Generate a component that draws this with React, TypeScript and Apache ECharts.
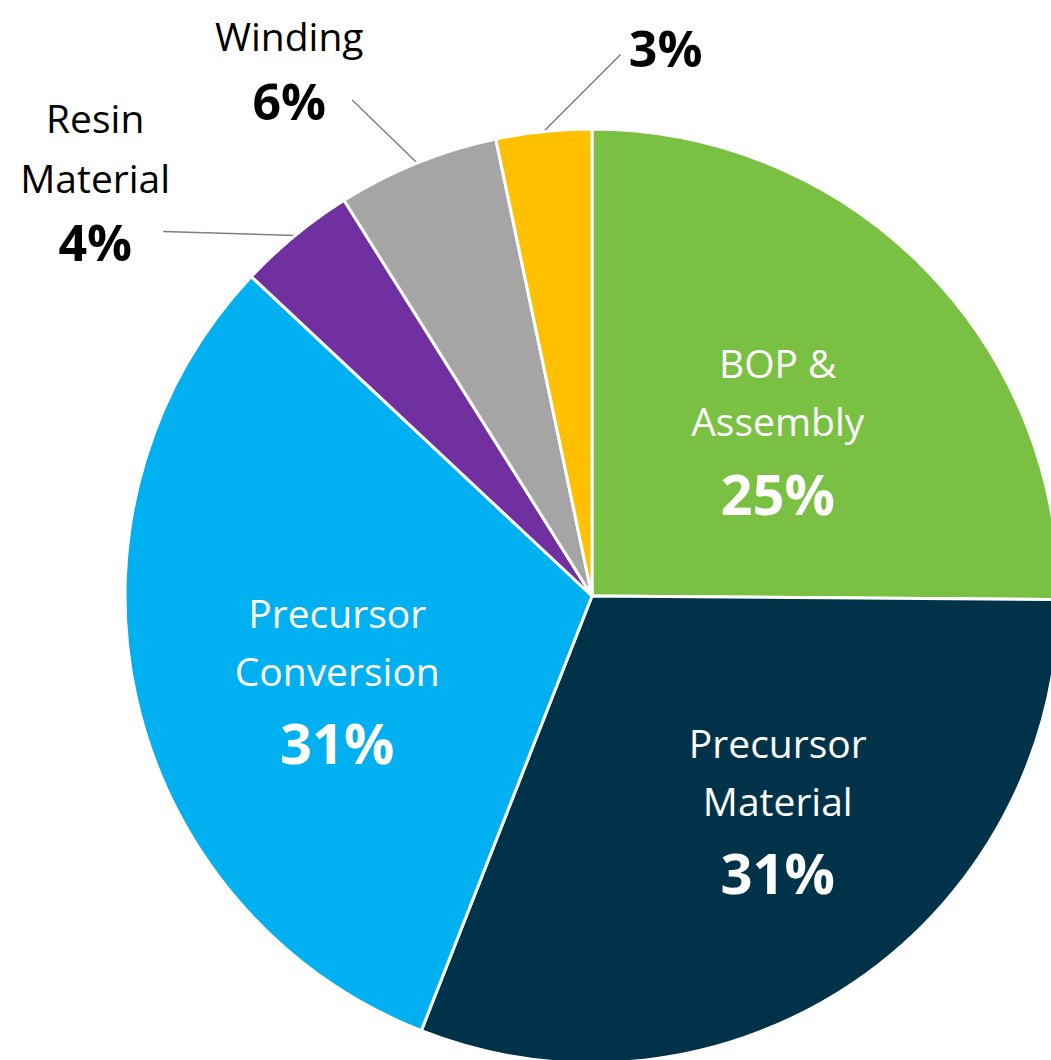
import React, { useEffect, useRef } from "react";
import * as echarts from "echarts";

// ---- data ----
const categories = [
  "BOP &\nAssembly",
  "Precursor\nMaterial",
  "Precursor\nConversion",
  "Resin\nMaterial",
  "Winding",
  "",
];
const values = [25.1, 30.8, 31.0, 4.1, 5.6, 3.3];
const colors = ["#7AC143", "#00334A", "#00B0F0", "#7030A0", "#A5A5A5", "#FFC000"];

// ---- layout ----
const CENTER = [592, 596];
const RADIUS = 467;
const FONT = "Open Sans";
// label placement relative to the slice's mid-angle point (inside: half radius, outside: rim)
const placement = [
  { inside: true, dx: 20, dy: 3, lx: 0, ly: 0 },
  { inside: true, dx: 55, dy: 25, lx: 0, ly: 0 },
  { inside: true, dx: -27, dy: 37, lx: 0, ly: 0 },
  { inside: false, dx: -200, dy: -53, lx: -132, ly: -4 },
  { inside: false, dx: -128, dy: -92, lx: -65, ly: -63 },
  { inside: false, dx: 122, dy: -84, lx: 77, ly: -77 },
];

export default function App() {
  const ref = useRef<HTMLDivElement>(null);
  useEffect(() => {
    if (!ref.current) return;
    const chart = echarts.init(ref.current, undefined, { renderer: "svg" });
    const total = values.reduce((a, b) => a + b, 0);
    const midAngles: number[] = [];
    let cum = 0;
    values.forEach((v) => {
      midAngles.push((2 * Math.PI * (cum + v / 2)) / total);
      cum += v;
    });

    chart.setOption({
      animation: false,
      backgroundColor: "#ffffff",
      series: [
        {
          type: "pie",
          center: CENTER,
          radius: RADIUS,
          startAngle: 90,
          clockwise: true,
          avoidLabelOverlap: false,
          silent: true,
          itemStyle: { borderColor: "#ffffff", borderWidth: 3 },
          label: {
            show: true,
            fontFamily: FONT,
            formatter: (p: any) => {
              const pl = placement[p.dataIndex];
              const suf = pl.inside ? "In" : "Out";
              const lines: string[] = p.name
                ? String(p.name).split("\n").map((s: string) => `{name${suf}|${s}}`)
                : [];
              lines.push(`{pct${suf}|${Math.round(p.value)}%}`);
              return lines.join("\n");
            },
            rich: {
              nameIn: { color: "#ffffff", fontFamily: FONT, fontSize: 39, lineHeight: 58 },
              pctIn: { color: "#ffffff", fontFamily: FONT, fontSize: 56, fontWeight: "bold", lineHeight: 86 },
              nameOut: { color: "#000000", fontFamily: FONT, fontSize: 39, lineHeight: 60 },
              pctOut: { color: "#000000", fontFamily: FONT, fontSize: 50, fontWeight: "bold", lineHeight: 70 },
            },
          },
          labelLine: {
            length: 10,
            length2: 10,
            lineStyle: { color: "#7F7F7F", width: 1.5 },
          },
          labelLayout: (p: any) => {
            const i = p.dataIndex;
            const pl = placement[i];
            const th = midAngles[i];
            const rr = pl.inside ? RADIUS / 2 : RADIUS;
            const ax = CENTER[0] + rr * Math.sin(th);
            const ay = CENTER[1] - rr * Math.cos(th);
            const res: any = {
              x: ax + pl.dx,
              y: ay + pl.dy,
              align: "center",
              verticalAlign: "middle",
            };
            if (!pl.inside) {
              res.labelLinePoints = [
                [ax, ay],
                [ax + pl.lx, ay + pl.ly],
              ];
            }
            return res;
          },
          data: categories.map((name, i) => ({
            name,
            value: values[i],
            itemStyle: { color: colors[i] },
            label: { position: placement[i].inside ? "inside" : "outside" },
            labelLine: { show: !placement[i].inside },
          })),
        },
      ],
    });
    return () => chart.dispose();
  }, []);

  return (
    <div
      ref={ref}
      style={{ position: "fixed", left: 0, top: 0, width: 1051, height: 1060, background: "#fff" }}
    />
  );
}
